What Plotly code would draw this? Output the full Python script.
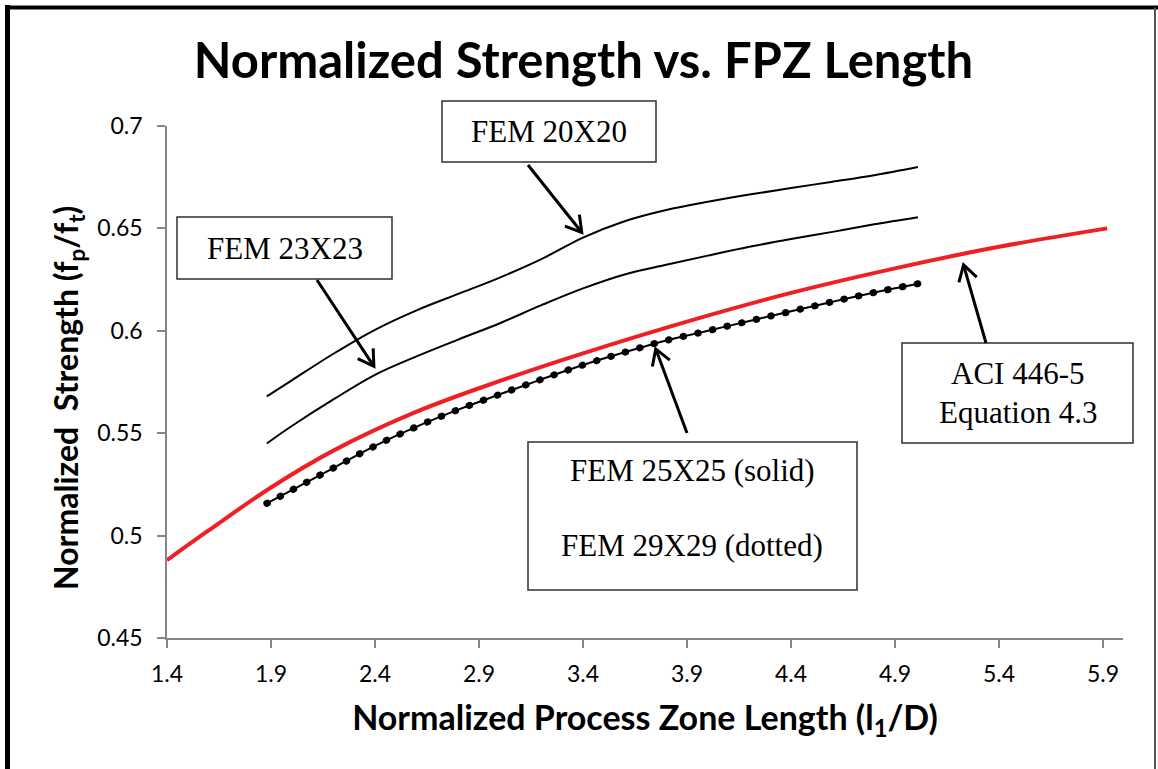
import math
import plotly.graph_objects as go

# ---------------- data ----------------
x_ticks = [1.4, 1.9, 2.4, 2.9, 3.4, 3.9, 4.4, 4.9, 5.4, 5.9]
x_tick_labels = ["1.4", "1.9", "2.4", "2.9", "3.4", "3.9", "4.4", "4.9", "5.4", "5.9"]
y_ticks = [0.45, 0.5, 0.55, 0.6, 0.65, 0.7]
y_tick_labels = ["0.45", "0.5", "0.55", "0.6", "0.65", "0.7"]

aci_x = [1.4, 1.6, 1.9, 2.2, 2.6, 3.0, 3.4, 3.9, 4.4, 4.9, 5.4, 5.92]
aci_y = [0.488, 0.5025, 0.5235, 0.5415, 0.5605, 0.5755, 0.589, 0.6045, 0.6185, 0.6305, 0.641, 0.650]

fem20_x = [1.88, 2.0, 2.2, 2.4, 2.6, 2.8, 3.0, 3.2, 3.4, 3.6, 3.8, 4.0, 4.2, 4.4, 4.6, 4.8, 5.01]
fem20_y = [0.568, 0.5758, 0.5888, 0.6005, 0.610, 0.618, 0.626, 0.635, 0.6455, 0.6535, 0.659,
           0.663, 0.6665, 0.6697, 0.6728, 0.676, 0.680]

fem23_x = [1.88, 2.0, 2.2, 2.4, 2.6, 2.8, 3.0, 3.2, 3.4, 3.6, 3.8, 4.0, 4.2, 4.4, 4.6, 4.8, 5.01]
fem23_y = [0.545, 0.5535, 0.5665, 0.5785, 0.5875, 0.5957, 0.6037, 0.6125, 0.6207, 0.6275, 0.6322,
           0.6367, 0.641, 0.6448, 0.6483, 0.652, 0.6555]

fem25_x = [1.88, 2.0, 2.2, 2.4, 2.6, 2.8, 3.0, 3.2, 3.4, 3.6, 3.8, 4.0, 4.2, 4.4, 4.6, 4.8, 5.01]
fem25_y = [0.5157, 0.5222, 0.533, 0.5438, 0.5532, 0.5615, 0.569, 0.5763, 0.5833, 0.5895, 0.5953,
           0.600, 0.6048, 0.6095, 0.6142, 0.6187, 0.623]

fem29_x = [1.88, 2.0, 2.2, 2.4, 2.6, 2.8, 3.0, 3.2, 3.4, 3.6, 3.8, 4.0, 4.2, 4.4, 4.6, 4.8, 5.01]
fem29_y = [0.5157, 0.5222, 0.533, 0.5438, 0.5532, 0.5615, 0.569, 0.5763, 0.5833, 0.5895, 0.5953,
           0.600, 0.6048, 0.6095, 0.6142, 0.6187, 0.623]

title_text = "Normalized Strength vs. FPZ Length"
x_title = "Normalized Process Zone Length (l<sub>1</sub>/D)"
y_title = "Normalized\u00a0 Strength (f<sub>p</sub>/f<sub>t</sub>)"

# ---------------- layout geometry ----------------
W, H = 1158, 769
ML, MR, MT, MB = 167, 35, 126, 131
PW, PH = W - ML - MR, H - MT - MB


def px(xp):
    return (xp - ML) / PW


def py(yp):
    return (H - MB - yp) / PH


AXIS_GRAY = "#868686"
SANS = "Lato"
SERIF = "Liberation Serif"

fig = go.Figure()

fig.add_trace(go.Scatter(x=fem20_x, y=fem20_y, mode="lines", name="FEM 20X20",
                         line=dict(color="black", width=2, shape="spline")))
fig.add_trace(go.Scatter(x=fem23_x, y=fem23_y, mode="lines", name="FEM 23X23",
                         line=dict(color="black", width=2, shape="spline")))
fig.add_trace(go.Scatter(x=aci_x, y=aci_y, mode="lines", name="ACI 446-5 Eq. 4.3",
                         line=dict(color="#EE2026", width=4, shape="spline")))
fig.add_trace(go.Scatter(x=fem25_x, y=fem25_y, mode="lines", name="FEM 25X25",
                         line=dict(color="black", width=2, shape="spline")))
fig.add_trace(go.Scatter(x=fem29_x, y=fem29_y, mode="lines", name="FEM 29X29",
                         line=dict(color="black", width=7, shape="spline", dash="0.5px,14.5px")))

axis_common = dict(showline=True, linecolor=AXIS_GRAY, linewidth=1.5, showgrid=False,
                   zeroline=False, ticks="outside", ticklen=8, tickwidth=1.5,
                   tickcolor=AXIS_GRAY, tickfont=dict(family=SANS, size=23, color="black"))

fig.update_layout(
    width=W, height=H,
    margin=dict(l=ML, r=MR, t=MT, b=MB, pad=0),
    paper_bgcolor="white", plot_bgcolor="white",
    showlegend=False,
    title=dict(text=title_text, x=583.5 / W, xref="container", xanchor="center",
               y=1 - 61 / H, yref="container", yanchor="middle",
               font=dict(family=SANS, size=49, color="black", weight="bold")),
    xaxis=dict(range=[1.4, 1.4 + PW / 208.0], tickvals=x_ticks, ticktext=x_tick_labels,
               ticklabelstandoff=7,
               title=dict(text=x_title, standoff=20,
                          font=dict(family=SANS, size=34, color="black", weight="bold")),
               **axis_common),
    yaxis=dict(range=[0.45, 0.7], tickvals=y_ticks, ticktext=y_tick_labels,
               ticklabelstandoff=10, **axis_common),
    xaxis2=dict(overlaying="x", anchor="y", side="bottom", range=[1.4, 1.4 + PW / 208.0],
                tickvals=x_ticks, showticklabels=False, showline=False, showgrid=False,
                zeroline=False, ticks="inside", ticklen=8, tickwidth=1.5, tickcolor=AXIS_GRAY),
    yaxis2=dict(overlaying="y", anchor="x", side="left", range=[0.45, 0.7],
                tickvals=y_ticks, showticklabels=False, showline=False, showgrid=False,
                zeroline=False, ticks="inside", ticklen=8, tickwidth=1.5, tickcolor=AXIS_GRAY),
)

# y-axis title placed as a rotated annotation
fig.add_annotation(text=y_title, xref="paper", yref="paper", x=px(68), y=py(398),
                   xanchor="center", yanchor="middle", textangle=-90, showarrow=False,
                   font=dict(family=SANS, size=32, color="black", weight="bold"))

# outer frame
fig.add_shape(type="line", xref="paper", yref="paper", x0=px(7.5), x1=px(7.5),
              y0=py(5), y1=py(775), line=dict(color="black", width=5))
fig.add_shape(type="line", xref="paper", yref="paper", x0=px(5), x1=px(1160),
              y0=py(7.5), y1=py(7.5), line=dict(color="black", width=4))
fig.add_shape(type="line", xref="paper", yref="paper", x0=px(1155), x1=px(1155),
              y0=py(7.5), y1=py(775), line=dict(color="#555555", width=2))

# callout boxes
boxes = [(442, 101, 656, 162), (177, 217, 392, 279), (528, 442, 857, 590), (902, 343, 1133, 443)]
for x0, y0, x1, y1 in boxes:
    fig.add_shape(type="rect", xref="paper", yref="paper", x0=px(x0), x1=px(x1),
                  y0=py(y0), y1=py(y1), line=dict(color="#303030", width=1.5),
                  fillcolor="white", layer="above")

labels = [("FEM 20X20", 549, 131.5), ("FEM 23X23", 284.5, 248),
          ("FEM 25X25 (solid)", 692, 470), ("FEM 29X29 (dotted)", 692, 545),
          ("ACI 446-5", 1017.5, 373), ("Equation 4.3", 1017.5, 412)]
for t, cx, cy in labels:
    fig.add_annotation(text=t, xref="paper", yref="paper", x=px(cx), y=py(cy),
                       xanchor="center", yanchor="middle", showarrow=False,
                       font=dict(family=SERIF, size=31, color="black"))

# callout arrows (tail -> tip, pixel positions): shaft + open V head
arrows = [((528, 165), (583, 234)), ((317, 280), (375, 368)),
          ((687, 433), (655, 347)), ((986, 343), (963, 263))]
HEAD_LEN, HEAD_ANG = 18.0, math.radians(31)
for (tx, ty), (hx, hy) in arrows:
    dx, dy = hx - tx, hy - ty
    n = math.hypot(dx, dy)
    ux, uy = dx / n, dy / n
    # pull the tip back slightly so the mitred join ends at the target
    hx2, hy2 = hx - 2.0 * ux, hy - 2.0 * uy
    fig.add_shape(type="line", xref="paper", yref="paper",
                  x0=px(tx), y0=py(ty), x1=px(hx2 - 1.5 * ux), y1=py(hy2 - 1.5 * uy),
                  line=dict(color="black", width=3), layer="above")
    pts = []
    for s in (1, -1):
        ca, sa = math.cos(s * HEAD_ANG), math.sin(s * HEAD_ANG)
        rx = ux * ca - uy * sa
        ry = ux * sa + uy * ca
        pts.append((hx2 - HEAD_LEN * rx, hy2 - HEAD_LEN * ry))
    path = "M {:.5f},{:.5f} L {:.5f},{:.5f} L {:.5f},{:.5f}".format(
        px(pts[0][0]), py(pts[0][1]), px(hx2), py(hy2), px(pts[1][0]), py(pts[1][1]))
    fig.add_shape(type="path", xref="paper", yref="paper", path=path,
                  line=dict(color="black", width=3), layer="above")

post = """
document.body.style.margin = '0';
var gd = document.getElementById('{plot_id}');
function roundDots() {
  var tr = gd.querySelectorAll('.scatterlayer .trace');
  if (tr.length > 4) {
    tr[4].querySelectorAll('path.js-line').forEach(function (p) {
      p.style.strokeLinecap = 'round';
    });
  }
}
roundDots();
gd.on('plotly_afterplot', roundDots);
"""

fig.write_html("out.html", post_script=post, config={"displayModeBar": False})
